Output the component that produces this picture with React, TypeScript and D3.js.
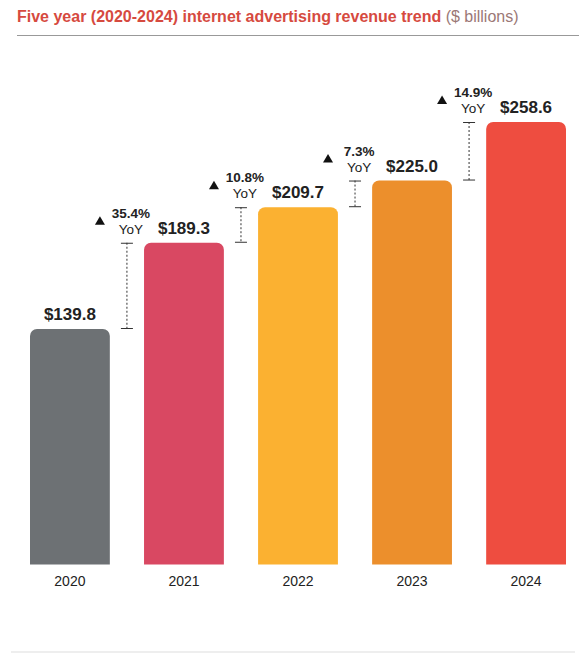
import React from "react";
import * as d3 from "d3";

const years = ["2020", "2021", "2022", "2023", "2024"];
const revenue = [139.8, 189.3, 209.7, 225.0, 258.6];
const valueLabels = ["$139.8", "$189.3", "$209.7", "$225.0", "$258.6"];
const yoyLabels = ["", "35.4%", "10.8%", "7.3%", "14.9%"];
const barColors = ["#6d7174", "#d94862", "#fbb131", "#ec8f2c", "#ee4d40"];

const W = 582;
const H = 658;
const FONT = "'Liberation Sans', Arial, Helvetica, sans-serif";

function topRoundedBar(x: number, yTop: number, w: number, yBottom: number, r: number) {
  const p = d3.path();
  p.moveTo(x, yBottom);
  p.lineTo(x, yTop + r);
  p.arcTo(x, yTop, x + r, yTop, r);
  p.lineTo(x + w - r, yTop);
  p.arcTo(x + w, yTop, x + w, yTop + r, r);
  p.lineTo(x + w, yBottom);
  p.closePath();
  return p.toString();
}

export default function App() {
  const x = d3.scaleBand<string>().domain(years).range([30, 566]).paddingInner(0.3).paddingOuter(0);
  const y = d3.scaleLinear().domain([0, 258.6]).range([572.6, 122]);
  const baseY = 564.5;
  const bw = x.bandwidth();
  const step = x.step();

  return (
    <svg width={W} height={H} style={{ position: "absolute", left: 0, top: 0, background: "#fff" }} fontFamily={FONT}>
      <text x={17} y={22} fontSize={16} fill="#d64a3f">
        <tspan fontWeight="bold">Five year (2020-2024) internet advertising revenue trend</tspan>
        <tspan fill="#9b7876"> ($ billions)</tspan>
      </text>
      <line x1={17} x2={579} y1={35.5} y2={35.5} stroke="#999" strokeWidth={1.2} />

      {years.map((yr, i) => {
        const bx = x(yr)!;
        const top = y(revenue[i]);
        return (
          <g key={yr}>
            <path d={topRoundedBar(bx, top, bw, baseY, 7)} fill={barColors[i]} />
            <text x={bx + bw / 2} y={top - 9} textAnchor="middle" fontSize={17} fontWeight="bold" fill="#222">
              {valueLabels[i]}
            </text>
            <text x={bx + bw / 2} y={585.5} textAnchor="middle" fontSize={14} fill="#222">
              {yr}
            </text>
          </g>
        );
      })}

      {years.map((yr, i) => {
        if (i === 0) return null;
        const lx = x(yr)! - (step - bw) / 2;
        const y1 = y(revenue[i]);
        const y0 = y(revenue[i - 1]);
        const tx = lx + 4;
        const triX = lx - 27;
        const triY = y1 - 22;
        return (
          <g key={"yoy" + yr}>
            <line x1={lx} x2={lx} y1={y1} y2={y0} stroke="#333" strokeWidth={1} strokeDasharray="2,2" />
            <line x1={lx - 6} x2={lx + 6} y1={y1 + 0.5} y2={y1 + 0.5} stroke="#333" strokeWidth={1} />
            <line x1={lx - 6} x2={lx + 6} y1={y0 - 0.5} y2={y0 - 0.5} stroke="#333" strokeWidth={1} />
            <path d={`M${triX - 5},${triY + 4}L${triX + 5},${triY + 4}L${triX},${triY - 4.5}Z`} fill="#111" />
            <text x={tx} y={y1 - 25} textAnchor="middle" fontSize={13.5} fontWeight="bold" fill="#222">
              {yoyLabels[i]}
            </text>
            <text x={tx} y={y1 - 9} textAnchor="middle" fontSize={13.5} fill="#222">
              YoY
            </text>
          </g>
        );
      })}

      <line x1={11} x2={575} y1={652} y2={652} stroke="#ddd" strokeWidth={1} />
    </svg>
  );
}
